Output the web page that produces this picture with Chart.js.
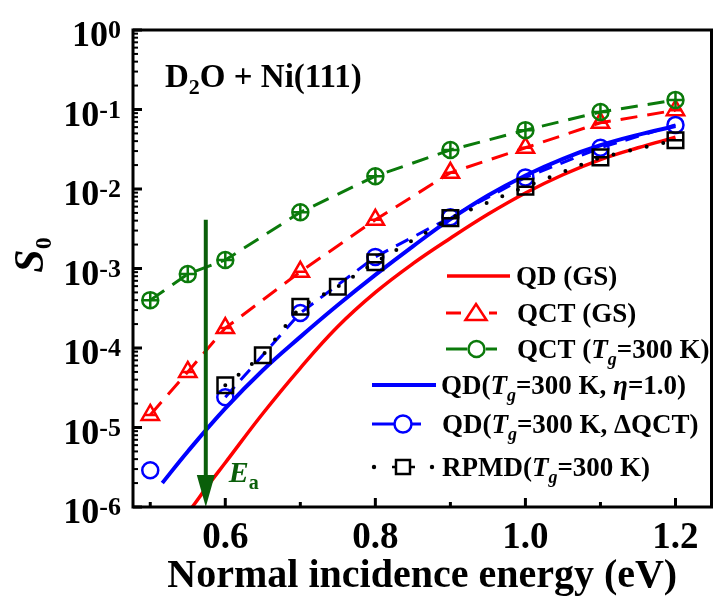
<!DOCTYPE html>
<html>
<head>
<meta charset="utf-8">
<script src="https://cdn.jsdelivr.net/npm/chart.js@4.4.1/dist/chart.umd.min.js"></script>
<style>
  html, body { margin: 0; padding: 0; background: #fff; }
  canvas { display: block; }
</style>
</head>
<body>
<canvas id="chart" width="725" height="602"></canvas>
<script>
// values (energy in eV, S0)
const qdGsE = [0.556, 0.58, 0.60, 0.65, 0.70, 0.75, 0.80, 0.85, 0.90, 0.95, 1.00, 1.05, 1.10, 1.15, 1.20];
const qdGsS = [1.0e-6, 2.04e-6, 3.6e-6, 1.5e-5, 5.6e-5, 1.86e-4, 5.0e-4, 1.15e-3, 2.4e-3, 4.8e-3, 8.9e-3, 1.51e-2, 2.34e-2, 3.3e-2, 4.47e-2];

const qdTgE = [0.516, 0.55, 0.60, 0.65, 0.70, 0.75, 0.80, 0.85, 0.90, 0.95, 1.00, 1.05, 1.10, 1.15, 1.20];
const qdTgS = [2.0e-6, 5.0e-6, 1.74e-5, 5.25e-5, 1.38e-4, 3.47e-4, 8.3e-4, 1.9e-3, 4.17e-3, 8.3e-3, 1.48e-2, 2.4e-2, 3.55e-2, 4.8e-2, 6.2e-2];

const qctGsE = [0.5, 0.55, 0.6, 0.7, 0.8, 0.9, 1.0, 1.1, 1.2];
const qctGsS = [1.44e-5, 5.0e-5, 1.78e-4, 9.1e-4, 4.1e-3, 1.6e-2, 3.3e-2, 6.8e-2, 9.8e-2];

const qctTgE = [0.5, 0.55, 0.6, 0.7, 0.8, 0.9, 1.0, 1.1, 1.2];
const qctTgS = [4.0e-4, 8.5e-4, 1.28e-3, 5.1e-3, 1.45e-2, 3.1e-2, 5.5e-2, 9.3e-2, 0.132];

const dqctE = [0.5, 0.6, 0.7, 0.8, 0.9, 1.0, 1.1, 1.2];
const dqctS = [2.9e-6, 2.4e-5, 2.76e-4, 1.4e-3, 4.4e-3, 1.4e-2, 3.3e-2, 6.4e-2];

const rpmdE = [0.6, 0.65, 0.7, 0.75, 0.8, 0.9, 1.0, 1.1, 1.2];
const rpmdS = [3.4e-5, 8.1e-5, 3.3e-4, 5.9e-4, 1.2e-3, 4.3e-3, 1.07e-2, 2.5e-2, 4.1e-2];

const eaE = 0.574, eaTop = 4.1e-3;

const xMajor = [0.6, 0.8, 1.0, 1.2];
const xMinor = [0.5, 0.7, 0.9, 1.1];
const yDecades = [-6, -5, -4, -3, -2, -1, 0];

const RED = '#ff0000', BLUE = '#0000ff', GREEN = '#0b7a0b', DKGREEN = '#0a5f0a';
const SERIF = '"Liberation Serif", "Times New Roman", serif';
const b = s => `bold ${s}px ${SERIF}`;
const bi = s => `italic bold ${s}px ${SERIF}`;

const pts = (xs, ys) => xs.map((v, i) => ({ x: v, y: ys[i] }));

function drawRich(ctx, x, y, parts, align) {
  let w = 0;
  parts.forEach(p => { ctx.font = p.font; w += ctx.measureText(p.text).width; });
  let cx = align === 'right' ? x - w : align === 'center' ? x - w / 2 : x;
  parts.forEach(p => {
    ctx.font = p.font;
    ctx.fillText(p.text, cx, y + (p.dy || 0));
    cx += ctx.measureText(p.text).width;
  });
}

function seg(ctx, x1, x2, y, color, w) {
  ctx.strokeStyle = color; ctx.lineWidth = w;
  ctx.beginPath(); ctx.moveTo(x1, y); ctx.lineTo(x2, y); ctx.stroke();
}

const framePlugin = {
  id: 'frame',
  afterDatasetsDraw(chart) {
    const { ctx, chartArea: a, scales: { x, y } } = chart;
    ctx.save();
    ctx.strokeStyle = '#000';
    ctx.lineCap = 'butt';

    // y ticks, pointing inward
    yDecades.forEach(k => {
      const py = y.getPixelForValue(Math.pow(10, k));
      ctx.lineWidth = 3;
      ctx.beginPath(); ctx.moveTo(a.left, py); ctx.lineTo(a.left + 9, py); ctx.stroke();
      if (k < 0) {
        for (let m = 2; m <= 9; m++) {
          const pm = y.getPixelForValue(m * Math.pow(10, k));
          ctx.lineWidth = 2;
          ctx.beginPath(); ctx.moveTo(a.left, pm); ctx.lineTo(a.left + 5, pm); ctx.stroke();
        }
      }
    });
    // x ticks
    xMajor.forEach(v => {
      const px = x.getPixelForValue(v);
      ctx.lineWidth = 3;
      ctx.beginPath(); ctx.moveTo(px, a.bottom); ctx.lineTo(px, a.bottom - 9); ctx.stroke();
    });
    xMinor.forEach(v => {
      const px = x.getPixelForValue(v);
      ctx.lineWidth = 3;
      ctx.beginPath(); ctx.moveTo(px, a.bottom); ctx.lineTo(px, a.bottom - 5); ctx.stroke();
    });

    // Ea arrow
    const ex = x.getPixelForValue(eaE);
    const et = y.getPixelForValue(eaTop);
    const eb = y.getPixelForValue(1e-6);
    ctx.strokeStyle = DKGREEN; ctx.fillStyle = DKGREEN;
    ctx.lineWidth = 4;
    ctx.beginPath(); ctx.moveTo(ex, et); ctx.lineTo(ex, eb - 28); ctx.stroke();
    ctx.beginPath(); ctx.moveTo(ex - 9, eb - 32); ctx.lineTo(ex + 9, eb - 32); ctx.lineTo(ex, eb); ctx.closePath(); ctx.fill();
    ctx.textBaseline = 'alphabetic';
    drawRich(ctx, ex + 23, 482, [{ text: 'E', font: bi(30) }, { text: 'a', font: b(20), dy: 7 }]);

    // frame
    ctx.strokeStyle = '#000';
    ctx.lineWidth = 3;
    ctx.strokeRect(a.left, a.top, a.right - a.left, a.bottom - a.top);

    // tick labels
    ctx.fillStyle = '#000';
    yDecades.forEach(k => {
      const py = y.getPixelForValue(Math.pow(10, k));
      drawRich(ctx, a.left - 12, py + 16, [
        { text: '10', font: b(36) },
        { text: k === 0 ? '0' : '-' + (-k), font: b(26), dy: -8 }
      ], 'right');
    });
    ctx.textAlign = 'center';
    ctx.font = b(37);
    xMajor.forEach(v => {
      ctx.fillText(v.toFixed(1), x.getPixelForValue(v), 548);
    });
    ctx.font = b(40);
    ctx.fillText('Normal incidence energy (eV)', (a.left + a.right) / 2, 587);
    ctx.textAlign = 'left';

    // y title
    ctx.save();
    ctx.translate(43, 255);
    ctx.rotate(-Math.PI / 2);
    drawRich(ctx, 0, 0, [{ text: 'S', font: bi(42) }, { text: '0', font: b(24), dy: 8 }], 'center');
    ctx.restore();

    // system label
    drawRich(ctx, 165, 87, [
      { text: 'D', font: b(33) }, { text: '2', font: b(22), dy: 7 }, { text: 'O + Ni(111)', font: b(33) }
    ]);

    // legend
    const lf = b(27), li = bi(27), ls = bi(18);
    seg(ctx, 447, 510, 276, RED, 3.5);
    drawRich(ctx, 516, 285, [{ text: 'QD (GS)', font: lf }]);

    seg(ctx, 446, 461, 313, RED, 3);
    seg(ctx, 489, 497, 313, RED, 3);
    ctx.strokeStyle = RED; ctx.lineWidth = 2.5;
    ctx.beginPath(); ctx.moveTo(476, 304); ctx.lineTo(486.5, 320); ctx.lineTo(465.5, 320); ctx.closePath(); ctx.stroke();
    drawRich(ctx, 517, 322, [{ text: 'QCT (GS)', font: lf }]);

    seg(ctx, 446, 467, 349, GREEN, 3);
    seg(ctx, 486, 497, 349, GREEN, 3);
    ctx.strokeStyle = GREEN; ctx.lineWidth = 2.5;
    ctx.beginPath(); ctx.arc(476.5, 349, 8, 0, Math.PI * 2); ctx.stroke();
    drawRich(ctx, 517, 358, [
      { text: 'QCT (', font: lf }, { text: 'T', font: li }, { text: 'g', font: ls, dy: 7 }, { text: '=300 K)', font: lf }
    ]);

    seg(ctx, 372, 436, 385, BLUE, 4);
    drawRich(ctx, 441, 394, [
      { text: 'QD(', font: lf }, { text: 'T', font: li }, { text: 'g', font: ls, dy: 7 },
      { text: '=300 K, ', font: lf }, { text: 'η', font: li }, { text: '=1.0)', font: lf }
    ]);

    seg(ctx, 372, 394, 424, BLUE, 3);
    seg(ctx, 412, 421, 424, BLUE, 3);
    ctx.strokeStyle = BLUE; ctx.lineWidth = 2.5;
    ctx.beginPath(); ctx.arc(403, 424, 8.5, 0, Math.PI * 2); ctx.stroke();
    drawRich(ctx, 442, 433, [
      { text: 'QD(', font: lf }, { text: 'T', font: li }, { text: 'g', font: ls, dy: 7 }, { text: '=300 K, ΔQCT)', font: lf }
    ]);

    ctx.fillStyle = '#000';
    ctx.beginPath(); ctx.arc(374, 467, 2.2, 0, Math.PI * 2); ctx.fill();
    ctx.beginPath(); ctx.arc(432, 467, 2.2, 0, Math.PI * 2); ctx.fill();
    seg(ctx, 392, 396, 467, '#000', 2.5);
    seg(ctx, 410, 415, 467, '#000', 2.5);
    ctx.strokeStyle = '#000'; ctx.lineWidth = 2.5;
    ctx.strokeRect(396, 460, 14, 14);
    drawRich(ctx, 442, 476, [
      { text: 'RPMD(', font: lf }, { text: 'T', font: li }, { text: 'g', font: ls, dy: 7 }, { text: '=300 K)', font: lf }
    ]);

    ctx.restore();
  }
};

const hollow = 'rgba(255,255,255,0)';

new Chart(document.getElementById('chart'), {
  type: 'line',
  data: {
    datasets: [
      {
        label: 'RPMD(Tg=300 K)', data: pts(rpmdE, rpmdS), order: 0,
        borderColor: '#000', borderWidth: 4, borderDash: [0, 17], borderCapStyle: 'round',
        pointStyle: 'rect', pointRadius: 11, pointBorderWidth: 2.5,
        pointBorderColor: '#000', pointBackgroundColor: hollow
      },
      {
        label: 'rpmd-inner', data: pts(rpmdE.slice(4), rpmdS.slice(4)), order: 0, showLine: false,
        pointStyle: 'line', pointRadius: 7, pointBorderWidth: 2.5, pointBorderColor: '#000'
      },
      {
        label: 'QD(Tg=300 K, eta=1.0)', data: pts(qdTgE, qdTgS), order: 1,
        borderColor: BLUE, borderWidth: 4, pointRadius: 0, tension: 0.4
      },
      {
        label: 'QD(Tg=300 K, dQCT)', data: pts(dqctE, dqctS), order: 2,
        borderColor: BLUE, borderWidth: 3, borderDash: [14, 9],
        segment: { borderColor: c => c.p0DataIndex === 0 ? 'rgba(0,0,0,0)' : undefined },
        pointStyle: 'circle', pointRadius: 8, pointBorderWidth: 2.5,
        pointBorderColor: BLUE, pointBackgroundColor: hollow
      },
      {
        label: 'qct-tg-inner', data: pts(qctTgE, qctTgS), order: 3, showLine: false,
        pointStyle: 'cross', pointRadius: 8, pointBorderWidth: 2.5, pointBorderColor: GREEN
      },
      {
        label: 'QCT (Tg=300 K)', data: pts(qctTgE, qctTgS), order: 3,
        borderColor: GREEN, borderWidth: 3, borderDash: [17, 10],
        pointStyle: 'circle', pointRadius: 8, pointBorderWidth: 2.5,
        pointBorderColor: GREEN, pointBackgroundColor: hollow
      },
      {
        label: 'qct-gs-inner', data: pts(qctGsE, qctGsS), order: 4, showLine: false,
        pointStyle: 'line', pointRadius: 6, pointBorderWidth: 2.5, pointBorderColor: RED
      },
      {
        label: 'QCT (GS)', data: pts(qctGsE, qctGsS), order: 4,
        borderColor: RED, borderWidth: 3, borderDash: [17, 10],
        pointStyle: 'triangle', pointRadius: 10, pointBorderWidth: 2.5,
        pointBorderColor: RED, pointBackgroundColor: hollow
      },
      {
        label: 'QD (GS)', data: pts(qdGsE, qdGsS), order: 5,
        borderColor: RED, borderWidth: 3.5, pointRadius: 0, tension: 0.4
      }
    ]
  },
  options: {
    responsive: false,
    animation: false,
    layout: { padding: { top: 30, right: 2, left: 0, bottom: 0 } },
    plugins: { legend: { display: false }, tooltip: { enabled: false } },
    scales: {
      x: {
        type: 'linear', min: 0.477, max: 1.248,
        grid: { display: false }, border: { display: false },
        ticks: { display: false },
        afterFit(scale) { scale.height = 95; }
      },
      y: {
        type: 'logarithmic', min: 1e-6, max: 1,
        grid: { display: false }, border: { display: false },
        ticks: { display: false },
        afterFit(scale) { scale.width = 133; }
      }
    }
  },
  plugins: [framePlugin]
});
</script>
</body>
</html>
